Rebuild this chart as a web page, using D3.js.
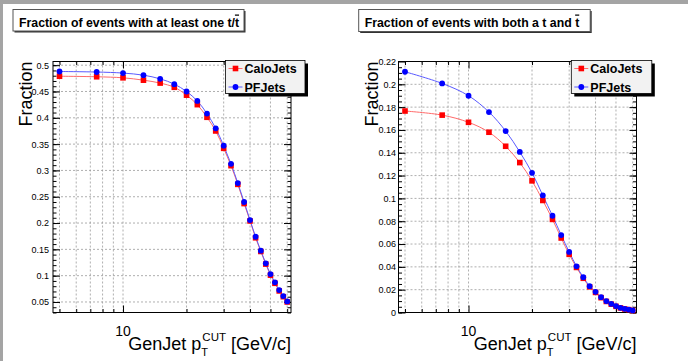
<!DOCTYPE html>
<html>
<head>
<meta charset="utf-8">
<script src="https://cdn.jsdelivr.net/npm/d3@7"></script>
<style>
  body { margin: 0; background: #fff; }
  svg { display: block; font-family: "Liberation Sans", Arial, sans-serif; }
</style>
</head>
<body>
<div id="chart"></div>
<script>
// canvas size
const W = 688;
const H = 361;

// GenJet pT cut values (GeV/c)
const ptCut = [5, 7.5, 10, 12.5, 15, 17.5, 20, 22.5, 25, 27.5, 30, 32.5, 35,
               37.5, 40, 42.5, 45, 47.5, 50, 52.5, 55, 57.5, 60];

// fraction of events with at least one t / tbar
const oneCalo = [0.479, 0.478, 0.476, 0.4715, 0.466, 0.458, 0.443, 0.425, 0.401, 0.375,
                 0.342, 0.309, 0.2735, 0.237, 0.204, 0.172, 0.146, 0.122, 0.101,
                 0.0855, 0.071, 0.060, 0.050];
const onePF   = [0.488, 0.487, 0.485, 0.481, 0.474, 0.464, 0.450, 0.432, 0.408, 0.380,
                 0.347, 0.3126, 0.276, 0.240, 0.2057, 0.174, 0.1475, 0.1235, 0.103,
                 0.0873, 0.0726, 0.0612, 0.051];

// fraction of events with both a t and tbar
const bothCalo = [0.1766, 0.173, 0.1667, 0.158, 0.1457, 0.1314, 0.1154, 0.0982, 0.0816,
                  0.0653, 0.051, 0.0395, 0.0300, 0.0225, 0.0176, 0.0130, 0.0097, 0.0073,
                  0.0054, 0.0040, 0.0031, 0.0025, 0.0017];
const bothPF   = [0.211, 0.2008, 0.190, 0.1757, 0.159, 0.1407, 0.1224, 0.1026, 0.0848,
                  0.0679, 0.0531, 0.0405, 0.0309, 0.0231, 0.0181, 0.0134, 0.0100, 0.0076,
                  0.0056, 0.0041, 0.0032, 0.0026, 0.0018];

// axis ticks
const xGridTicks = [5, 6, 7, 8, 9, 10, 20, 30, 40, 50, 60];
const oneYTicks = [0.05, 0.1, 0.15, 0.2, 0.25, 0.3, 0.35, 0.4, 0.45, 0.5];
const oneYLabels = ["0.05", "0.1", "0.15", "0.2", "0.25", "0.3", "0.35", "0.4", "0.45", "0.5"];
const bothYTicks = [0, 0.02, 0.04, 0.06, 0.08, 0.1, 0.12, 0.14, 0.16, 0.18, 0.2, 0.22];
const bothYLabels = ["0", "0.02", "0.04", "0.06", "0.08", "0.1", "0.12", "0.14", "0.16", "0.18", "0.2", "0.22"];

const seriesNames = ["CaloJets", "PFJets"];
const red = "#ff0000", blue = "#0000ff";

const svg = d3.select("#chart").append("svg")
    .attr("width", W)
    .attr("height", H);

svg.append("rect").attr("width", W).attr("height", H).attr("fill", "#fff");
// grey canvas border top / left
svg.append("rect").attr("x", 0).attr("y", 0).attr("width", W).attr("height", 4).attr("fill", "#a4a4a4");
svg.append("rect").attr("x", 0).attr("y", 0).attr("width", 3).attr("height", H).attr("fill", "#a4a4a4");

function drawPanel(ox, cfg) {
  const g = svg.append("g").attr("transform", `translate(${ox},0)`);
  const fx0 = 53, fx1 = 291, fy0 = 61.5, fy1 = 312.5;

  const x = d3.scaleLog().domain([4.657, 62.55]).range([fx0, fx1]);
  const y = d3.scaleLinear().domain(cfg.yDomain).range([fy1, fy0]);

  // title box
  const tb = cfg.titleBox;
  g.append("rect").attr("x", tb[0] + 1.5).attr("y", tb[1] + 1.5).attr("width", tb[2]).attr("height", tb[3])
    .attr("fill", "#333");
  g.append("rect").attr("x", tb[0]).attr("y", tb[1]).attr("width", tb[2]).attr("height", tb[3])
    .attr("fill", "#fff").attr("stroke", "#555").attr("stroke-width", 1);
  const tt = g.append("text").attr("x", tb[0] + 6).attr("y", tb[1] + 17)
    .style("font-size", "12.3px").style("font-weight", "bold");
  tt.append("tspan").text(cfg.title);
  tt.append("tspan").text("t").style("text-decoration", "overline");

  // grid
  g.selectAll(".gx").data(xGridTicks).enter().append("line")
    .attr("x1", d => x(d)).attr("x2", d => x(d)).attr("y1", fy0).attr("y2", fy1)
    .attr("stroke", "#9a9a9a").attr("stroke-width", 0.8).attr("stroke-dasharray", "2,2");
  g.selectAll(".gy").data(cfg.yTicks).enter().append("line")
    .attr("x1", fx0).attr("x2", fx1).attr("y1", d => y(d)).attr("y2", d => y(d))
    .attr("stroke", "#9a9a9a").attr("stroke-width", 0.8).attr("stroke-dasharray", "2,2");

  // y ticks left and right
  const yMinor = d3.range(cfg.yDomain[0], cfg.yDomain[1], cfg.yMinorStep);
  g.append("g").attr("transform", `translate(${fx0},0)`)
    .call(d3.axisLeft(y).tickValues(yMinor).tickSizeInner(-3.5).tickSizeOuter(0).tickFormat(""))
    .call(a => a.select(".domain").remove());
  g.append("g").attr("transform", `translate(${fx1},0)`)
    .call(d3.axisRight(y).tickValues(yMinor).tickSizeInner(-3.5).tickSizeOuter(0).tickFormat(""))
    .call(a => a.select(".domain").remove());
  g.append("g").attr("transform", `translate(${fx1},0)`)
    .call(d3.axisRight(y).tickValues(cfg.yTicks).tickSizeInner(-7).tickSizeOuter(0).tickFormat(""))
    .call(a => a.select(".domain").remove());
  g.append("g").attr("transform", `translate(${fx0},0)`)
    .call(d3.axisLeft(y).tickValues(cfg.yTicks).tickSizeInner(-7).tickSizeOuter(0)
      .tickPadding(cfg.labelPad).tickFormat((d, i) => cfg.yLabels[i]))
    .call(a => a.select(".domain").remove())
    .call(a => a.selectAll("text").style("font-size", "9px").attr("fill", "#000")
      .style("font-family", "Liberation Sans, Arial, sans-serif"));

  // x ticks bottom and top
  const xMinor = xGridTicks.filter(d => d !== 10);
  [[d3.axisBottom, fy1], [d3.axisTop, fy0]].forEach(([ax, yy]) => {
    g.append("g").attr("transform", `translate(0,${yy})`)
      .call(ax(x).tickValues(xMinor).tickSizeInner(-3.5).tickSizeOuter(0).tickFormat(""))
      .call(a => a.select(".domain").remove());
    g.append("g").attr("transform", `translate(0,${yy})`)
      .call(ax(x).tickValues([10]).tickSizeInner(-7).tickSizeOuter(0).tickFormat(""))
      .call(a => a.select(".domain").remove());
  });
  g.selectAll(".tick line").attr("stroke", "#000");

  // frame
  g.append("rect").attr("x", fx0).attr("y", fy0).attr("width", fx1 - fx0).attr("height", fy1 - fy0)
    .attr("fill", "none").attr("stroke", "#000").attr("stroke-width", 1);

  // x label "10"
  g.append("text").attr("x", x(10)).attr("y", 336).attr("text-anchor", "middle")
    .style("font-size", "14px").text("10");

  // x title
  const xt = g.append("g");
  const t1 = xt.append("text").attr("x", 0).attr("y", 350).style("font-size", "18px").text("GenJet p");
  const w1 = t1.node().getComputedTextLength();
  xt.append("text").attr("x", w1).attr("y", 356).style("font-size", "11px").text("T");
  const t3 = xt.append("text").attr("x", w1 + 1).attr("y", 341).style("font-size", "11.5px").text("CUT");
  const w3 = t3.node().getComputedTextLength();
  const t4 = xt.append("text").attr("x", w1 + w3 + 1).attr("y", 350).style("font-size", "18px").text(" [GeV/c]");
  t4.attr("xml:space", "preserve").style("white-space", "pre");
  const w4 = t4.node().getComputedTextLength();
  xt.attr("transform", `translate(${fx1 - (w1 + w3 + 1 + w4)},0)`);

  // y title
  g.append("text").attr("transform", `translate(${cfg.yTitleX},${fy0}) rotate(-90)`)
    .attr("text-anchor", "end").style("font-size", "18px").text("Fraction");

  // curves
  const line = d3.line().x(d => x(d[0])).y(d => y(d[1])).curve(d3.curveCatmullRom.alpha(0.5));
  const caloPts = ptCut.map((p, i) => [p, cfg.calo[i]]);
  const pfPts = ptCut.map((p, i) => [p, cfg.pf[i]]);
  g.append("path").datum(caloPts).attr("d", line).attr("fill", "none")
    .attr("stroke", "#ff6a6a").attr("stroke-width", 1);
  g.append("path").datum(pfPts).attr("d", line).attr("fill", "none")
    .attr("stroke", "#5a5aff").attr("stroke-width", 1);
  g.selectAll(".mc").data(caloPts).enter().append("rect")
    .attr("x", d => x(d[0]) - 2.8).attr("y", d => y(d[1]) - 2.8)
    .attr("width", 5.6).attr("height", 5.6).attr("fill", red);
  g.selectAll(".mp").data(pfPts).enter().append("circle")
    .attr("cx", d => x(d[0])).attr("cy", d => y(d[1])).attr("r", 2.9).attr("fill", blue);

  // legend
  const lg = cfg.legend;
  g.append("rect").attr("x", lg[0] + 3).attr("y", lg[1] + 3).attr("width", lg[2]).attr("height", lg[3]).attr("fill", "#000");
  g.append("rect").attr("x", lg[0]).attr("y", lg[1]).attr("width", lg[2]).attr("height", lg[3])
    .attr("fill", "#f2f2f2").attr("stroke", "#000").attr("stroke-width", 0.8);
  const rows = [lg[1] + 8, lg[1] + 26.5];
  seriesNames.forEach((name, i) => {
    const ry = rows[i];
    g.append("line").attr("x1", lg[0] + 3).attr("x2", lg[0] + 17).attr("y1", ry).attr("y2", ry)
      .attr("stroke", i === 0 ? "#ff6a6a" : "#5a5aff").attr("stroke-width", 1);
    if (i === 0) {
      g.append("rect").attr("x", lg[0] + 10 - 2.8).attr("y", ry - 2.8).attr("width", 5.6).attr("height", 5.6).attr("fill", red);
    } else {
      g.append("circle").attr("cx", lg[0] + 10).attr("cy", ry).attr("r", 2.9).attr("fill", blue);
    }
    g.append("text").attr("x", lg[0] + 19).attr("y", ry + 4.5)
      .style("font-size", "12.5px").style("font-weight", "bold").text(name);
  });
}

drawPanel(0, {
  yDomain: [0.030, 0.507],
  yTicks: oneYTicks, yLabels: oneYLabels, yMinorStep: 0.01,
  labelPad: 4, yTitleX: 32,
  calo: oneCalo, pf: onePF,
  title: "Fraction of events with at least one t/",
  titleBox: [13, 9.5, 231, 21.5],
  legend: [225.5, 60.5, 79.5, 33]
});

drawPanel(345.5, {
  yDomain: [0, 0.22],
  yTicks: bothYTicks, yLabels: bothYLabels, yMinorStep: 0.005,
  labelPad: 2.5, yTitleX: 32,
  calo: bothCalo, pf: bothPF,
  title: "Fraction of events with both a t and ",
  titleBox: [13.2, 9.5, 231.5, 22],
  legend: [225.8, 60.5, 80.5, 33]
});
</script>
</body>
</html>
